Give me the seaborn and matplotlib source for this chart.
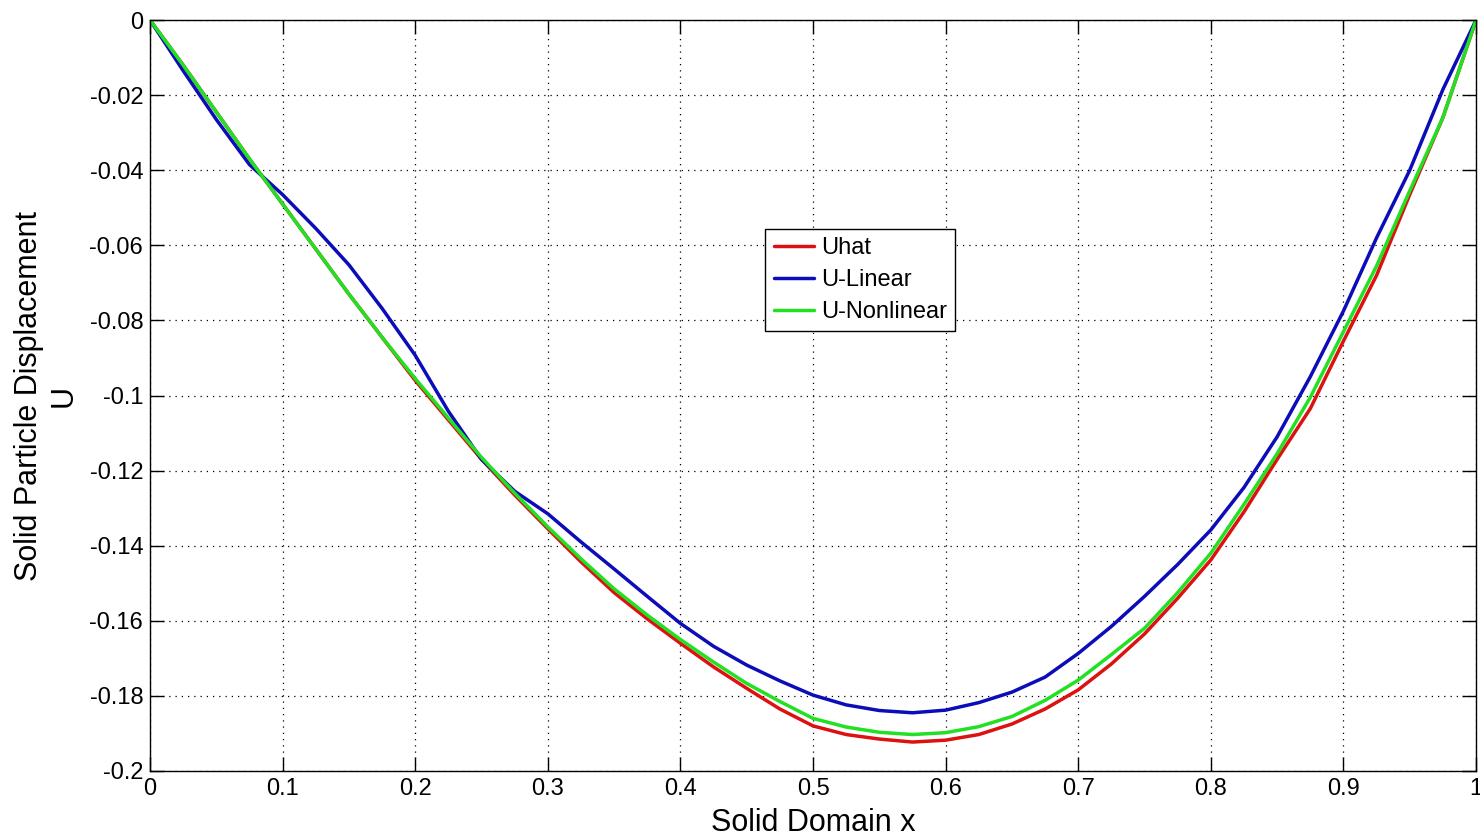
import numpy as np
import pandas as pd
import seaborn as sns
import matplotlib.pyplot as plt

# data
x = [0, 0.025, 0.05, 0.075, 0.1, 0.125, 0.15, 0.175, 0.2, 0.225,
     0.25, 0.275, 0.3, 0.325, 0.35, 0.375, 0.4, 0.425, 0.45, 0.475,
     0.5, 0.525, 0.55, 0.575, 0.6, 0.625, 0.65, 0.675, 0.7, 0.725,
     0.75, 0.775, 0.8, 0.825, 0.85, 0.875, 0.9, 0.925, 0.95, 0.975, 1.0]

u_hat = [0, -0.012, -0.0245, -0.037, -0.049, -0.061, -0.073, -0.0845, -0.096, -0.1065,
         -0.117, -0.1265, -0.1355, -0.1443, -0.1525, -0.1595, -0.166, -0.1723, -0.178, -0.1835,
         -0.188, -0.1903, -0.1915, -0.1923, -0.1918, -0.1903, -0.1875, -0.1835, -0.1784, -0.1715,
         -0.1635, -0.154, -0.1438, -0.131, -0.117, -0.1035, -0.0855, -0.0680, -0.0465, -0.026, 0]

u_linear = [0, -0.0135, -0.0265, -0.0385, -0.0465, -0.0555, -0.0652, -0.0768, -0.0893, -0.1042,
            -0.117, -0.1255, -0.1315, -0.139, -0.1462, -0.1535, -0.1607, -0.1668, -0.1718, -0.176,
            -0.1798, -0.1824, -0.1839, -0.1845, -0.1838, -0.1818, -0.179, -0.175, -0.1687, -0.1615,
            -0.1535, -0.145, -0.1358, -0.1245, -0.111, -0.095, -0.0775, -0.058, -0.040, -0.0185, 0]

u_nonlinear = [0, -0.012, -0.0245, -0.037, -0.049, -0.061, -0.073, -0.0845, -0.0955, -0.106,
               -0.1165, -0.126, -0.135, -0.1435, -0.1515, -0.1585, -0.165, -0.171, -0.1767, -0.1815,
               -0.186, -0.1883, -0.1897, -0.1903, -0.1898, -0.1882, -0.1855, -0.1812, -0.1758, -0.169,
               -0.162, -0.1525, -0.142, -0.129, -0.1155, -0.1005, -0.083, -0.0655, -0.0455, -0.026, 0]

series_names = ["Uhat", "U-Linear", "U-Nonlinear"]
colors = ["#dd1111", "#0c0cb8", "#22e022"]

df = pd.DataFrame({
    "x": x * 3,
    "U": u_hat + u_linear + u_nonlinear,
    "series": [n for n in series_names for _ in x],
})

sns.set_style("ticks")
plt.rcParams['font.family'] = ['Liberation Sans', 'DejaVu Sans']
plt.rcParams['text.color'] = 'black'
plt.rcParams['axes.labelcolor'] = 'black'

fig = plt.figure(figsize=(14.8, 8.38), dpi=100)
ax = fig.add_axes([0.1014, 0.080, 0.8959, 0.896])

sns.lineplot(data=df, x="x", y="U", hue="series", hue_order=series_names,
             palette=colors, linewidth=2.5, ax=ax, sort=True, estimator=None)
for line in ax.get_lines():
    line.set_solid_joinstyle("round")

ax.set_xlim(0, 1)
ax.set_ylim(-0.2, 0)
ax.set_xticks(np.arange(0, 1.01, 0.1))
ax.set_yticks(np.arange(-0.2, 0.001, 0.02))
ax.set_xticklabels(["0", "0.1", "0.2", "0.3", "0.4", "0.5", "0.6", "0.7", "0.8", "0.9", "1"])
ax.set_yticklabels(["-0.2", "-0.18", "-0.16", "-0.14", "-0.12", "-0.1",
                    "-0.08", "-0.06", "-0.04", "-0.02", "0"])

ax.grid(True, linestyle=(0, (1, 4)), color="black", linewidth=0.9)
ax.tick_params(direction="in", length=10, width=1, labelsize=17, pad=5,
               top=True, right=True, colors="black")
for s in ax.spines.values():
    s.set_color("black")
    s.set_linewidth(1)
    s.set_visible(True)

ax.set_xlabel("Solid Domain x", fontsize=22, labelpad=6)
ax.set_ylabel("Solid Particle Displacement\nU", fontsize=22, labelpad=8)

leg = ax.legend(loc="upper left", bbox_to_anchor=(0.464, 0.722), fontsize=17,
                frameon=True, fancybox=False, edgecolor="black", framealpha=1,
                handlelength=1.7, handletextpad=0.3, borderpad=0.35,
                labelspacing=0.42, borderaxespad=0)
leg.get_frame().set_linewidth(1)

fig.savefig("out.png", dpi=100)
